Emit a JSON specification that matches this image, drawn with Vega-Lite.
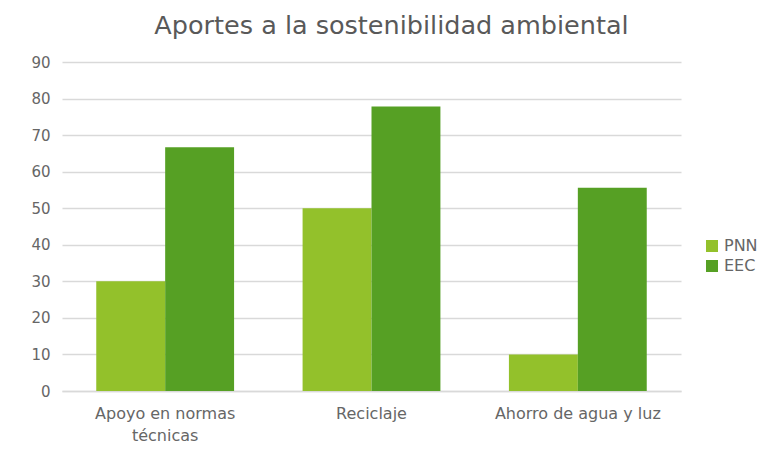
{
  "$schema": "https://vega.github.io/schema/vega-lite/v6.json",
  "width": 619,
  "height": 329,
  "autosize": {"type": "none"},
  "padding": {"left": 62, "top": 62, "right": 83, "bottom": 72},
  "background": "white",
  "title": {
    "text": "Aportes a la sostenibilidad ambiental",
    "fontSize": 25.5,
    "font": "DejaVu Sans",
    "fontWeight": "normal",
    "color": "#595959",
    "anchor": "middle",
    "dx": 20,
    "offset": 16
  },
  "data": {
    "values": [
      {"aporte": "Apoyo en normas técnicas", "grupo": "PNN", "valor": 30},
      {"aporte": "Apoyo en normas técnicas", "grupo": "EEC", "valor": 66.7},
      {"aporte": "Reciclaje", "grupo": "PNN", "valor": 50},
      {"aporte": "Reciclaje", "grupo": "EEC", "valor": 77.8},
      {"aporte": "Ahorro de agua y luz", "grupo": "PNN", "valor": 10},
      {"aporte": "Ahorro de agua y luz", "grupo": "EEC", "valor": 55.6}
    ]
  },
  "mark": {"type": "bar"},
  "encoding": {
    "x": {
      "field": "aporte",
      "type": "nominal",
      "sort": ["Apoyo en normas técnicas", "Reciclaje", "Ahorro de agua y luz"],
      "scale": {"paddingInner": 0.332, "paddingOuter": 0.166},
      "axis": {
        "title": null,
        "labelAngle": 0,
        "labelExpr": "datum.label == 'Apoyo en normas técnicas' ? ['Apoyo en normas', 'técnicas'] : datum.label",
        "labelFontSize": 16,
        "labelFont": "DejaVu Sans",
        "labelColor": "#666666",
        "labelPadding": 14,
        "labelLineHeight": 22,
        "ticks": false,
        "domainColor": "#D9D9D9",
        "domainWidth": 1.5,
        "grid": false
      }
    },
    "xOffset": {"field": "grupo", "type": "nominal", "sort": ["PNN", "EEC"], "scale": {"paddingInner": 0, "paddingOuter": 0}},
    "y": {
      "field": "valor",
      "type": "quantitative",
      "scale": {"domain": [0, 90], "nice": false},
      "axis": {
        "title": null,
        "values": [0, 10, 20, 30, 40, 50, 60, 70, 80, 90],
        "labelFontSize": 15,
        "labelFont": "DejaVu Sans",
        "labelColor": "#666666",
        "labelPadding": 12,
        "ticks": false,
        "domain": false,
        "gridColor": "#D9D9D9",
        "gridWidth": 1.5
      }
    },
    "color": {
      "field": "grupo",
      "type": "nominal",
      "sort": ["PNN", "EEC"],
      "scale": {"domain": ["PNN", "EEC"], "range": ["#93C12B", "#56A024"]},
      "legend": {
        "title": null,
        "orient": "none",
        "legendX": 642,
        "legendY": 176,
        "symbolType": "square",
        "symbolSize": 144,
        "symbolStrokeWidth": 0,
        "labelFontSize": 16,
        "labelFont": "DejaVu Sans",
        "labelColor": "#666666",
        "labelOffset": 4,
        "rowPadding": 4
      }
    }
  },
  "config": {"view": {"stroke": null}}
}
